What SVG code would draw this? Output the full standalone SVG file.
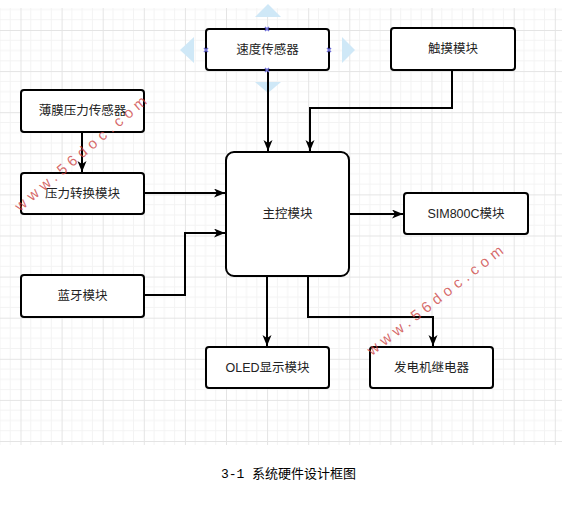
<svg xmlns="http://www.w3.org/2000/svg" width="562" height="515" viewBox="0 0 562 515">
<style>
.box{fill:#fff;stroke:#000;stroke-width:2}
.lbl{font-family:"Liberation Sans","Noto Sans CJK SC",sans-serif;font-size:12.5px;fill:#222;text-anchor:middle;dominant-baseline:central}
.con{fill:none;stroke:#000;stroke-width:2}
.wm{font-family:"Liberation Sans",sans-serif;font-size:15px;fill:#cc4444;fill-opacity:0.8}
.hint{fill:#cfe8f7}
.hx{stroke:#7070d8;stroke-width:1.5}
</style>
<defs>
<pattern id="grid" patternUnits="userSpaceOnUse" x="20.5" y="30" width="41.1" height="41.1">
<path d="M10.28,0V41.1M20.55,0V41.1M30.83,0V41.1M0,10.28H41.1M0,20.55H41.1M0,30.83H41.1" stroke="#f3f3f3" stroke-width="1" fill="none"/>
<path d="M0.5,0V41.1M0,0.5H41.1" stroke="#e4e4e4" stroke-width="1" fill="none"/>
</pattern>
<marker id="arr" markerUnits="userSpaceOnUse" markerWidth="12" markerHeight="10" refX="11" refY="4.5" orient="auto">
<path d="M0,0 L11,4.5 L0,9 L3,4.5 Z" fill="#000"/>
</marker>
</defs>
<rect x="0" y="0" width="562" height="515" fill="#fff"/>
<rect x="0" y="8" width="562" height="437" fill="url(#grid)"/>

<g id="hints">
<polygon class="hint" points="268,4 281,17 255,17"/>
<polygon class="hint" points="180,50 194,37 194,63"/>
<polygon class="hint" points="355,50 342,37 342,63"/>
<polygon class="hint" points="268,93 255,82 281,82"/>
</g>

<g id="connectors">
<path class="con" d="M268,71 V151" marker-end="url(#arr)"/>
<path class="con" d="M452,71 V108 H310 V151" marker-end="url(#arr)"/>
<path class="con" d="M82,133 V172" marker-end="url(#arr)"/>
<path class="con" d="M145,193 H225" marker-end="url(#arr)"/>
<path class="con" d="M145,295 H185 V233 H225" marker-end="url(#arr)"/>
<path class="con" d="M350,214 H403" marker-end="url(#arr)"/>
<path class="con" d="M267,277 V346" marker-end="url(#arr)"/>
<path class="con" d="M308,277 V317 H433 V346" marker-end="url(#arr)"/>
</g>

<g id="speed"><rect class="box" x="206" y="29" width="123" height="41" rx="3"/><text class="lbl" x="267.5" y="50">速度传感器</text></g>
<g id="touch"><rect class="box" x="391" y="28" width="124" height="42" rx="3"/><text class="lbl" x="453" y="49">触摸模块</text></g>
<g id="film"><rect class="box" x="21" y="90" width="123" height="42" rx="3"/><text class="lbl" x="82.5" y="111">薄膜压力传感器</text></g>
<g id="conv"><rect class="box" x="21" y="173" width="123" height="41" rx="3"/><text class="lbl" x="82.5" y="194">压力转换模块</text></g>
<g id="bt"><rect class="box" x="21" y="275" width="123" height="42" rx="3"/><text class="lbl" x="82.5" y="296">蓝牙模块</text></g>
<g id="main"><rect class="box" x="226" y="152" width="123" height="124" rx="8"/><text class="lbl" x="287.5" y="214">主控模块</text></g>
<g id="sim"><rect class="box" x="404" y="193" width="124" height="41" rx="3"/><text class="lbl" x="466" y="214">SIM800C模块</text></g>
<g id="oled"><rect class="box" x="206" y="347" width="123" height="41" rx="3"/><text class="lbl" x="267.5" y="368">OLED显示模块</text></g>
<g id="relay"><rect class="box" x="370" y="347" width="123" height="41" rx="3"/><text class="lbl" x="431.5" y="368">发电机继电器</text></g>

<g id="handles">
<path class="hx" d="M265,27 l4,4 M269,27 l-4,4 M204,48 l4,4 M208,48 l-4,4 M327,48 l4,4 M331,48 l-4,4 M265,68 l4,4 M269,68 l-4,4"/>
</g>

<g id="watermarks">
<text class="wm" x="0" y="0" textLength="168" lengthAdjust="spacing" transform="translate(20,212) rotate(-40.5)">www.56doc.com</text>
<text class="wm" x="0" y="0" textLength="168" lengthAdjust="spacing" transform="translate(372,356) rotate(-38)">www.56doc.com</text>
</g>

<text x="288.5" y="478" font-family="Liberation Mono,Noto Sans CJK SC,monospace" font-size="13" fill="#000" text-anchor="middle">3-1 系统硬件设计框图</text>
</svg>
